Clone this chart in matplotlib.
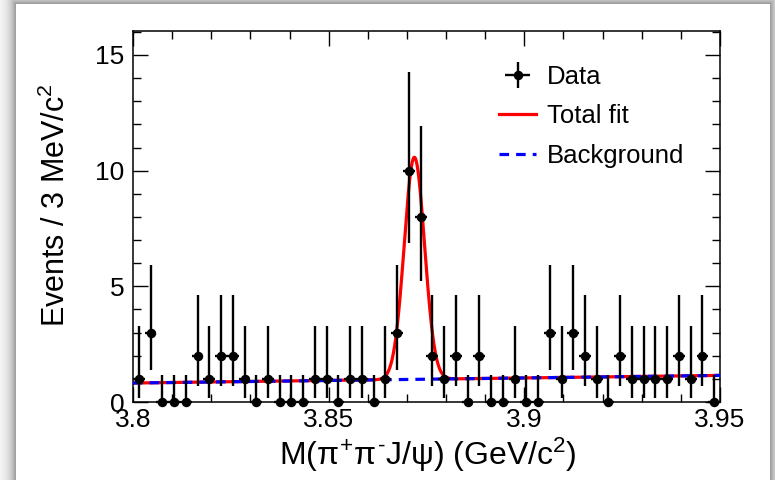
import numpy as np
import matplotlib
matplotlib.use("Agg")
import matplotlib.pyplot as plt
import matplotlib.transforms as mtransforms
from matplotlib.ticker import MultipleLocator

plt.rcParams['font.family'] = ['Liberation Sans', 'DejaVu Sans']
plt.rcParams['mathtext.fontset'] = 'custom'
plt.rcParams['mathtext.rm'] = 'Liberation Sans'
plt.rcParams['mathtext.it'] = 'Liberation Sans'

# data: 3 MeV bins from 3.80 to 3.95 GeV
bin_lo = 3.80
bin_w = 0.003
counts = [1, 3, 0, 0, 0, 2, 1, 2, 2, 1,
          0, 1, 0, 0, 0, 1, 1, 0, 1, 1,
          0, 1, 3, 10, 8, 2, 1, 2, 0, 2,
          0, 0, 1, 0, 0, 3, 1, 3, 2, 1,
          0, 2, 1, 1, 1, 1, 2, 1, 2, 0]

# poisson error bars (lower, upper) per count
err_table = {0: (0.0, 1.15), 1: (0.827, 2.30), 2: (1.292, 2.638),
             3: (1.633, 2.918), 8: (2.768, 3.945), 10: (3.108, 4.266)}

# fit parameters
bkg_left = 0.82      # background at 3.80
bkg_right = 1.15     # background at 3.95
sig_amp = 9.6
sig_mean = 3.8719
sig_sigma = 0.0026

counts = np.array(counts)
centers = bin_lo + bin_w * (np.arange(len(counts)) + 0.5)
ylo = [err_table[c][0] for c in counts]
yhi = [err_table[c][1] for c in counts]

xf = np.linspace(3.80, 3.95, 1500)
bkg = bkg_left + (bkg_right - bkg_left) * (xf - 3.80) / 0.15
total = bkg + sig_amp * np.exp(-0.5 * ((xf - sig_mean) / sig_sigma) ** 2)

W, H = 775, 480
fig = plt.figure(figsize=(W / 100, H / 100), dpi=100)

# shadowed panel background
bg = fig.add_axes([0, 0, 1, 1], zorder=-10)
px = np.arange(W)[None, :] * np.ones((H, 1))
py = np.arange(H)[:, None] * np.ones((1, W))
d = np.maximum.reduce([16 - px, 4 - py, px - 769, np.zeros_like(px)])
shade = np.where(d > 0, 1 - 0.38 * np.exp(-(d - 1) / 7.0), 1.0)
bg.imshow(np.dstack([shade] * 3), aspect='auto', extent=[0, 1, 0, 1])
bg.axis('off')

ax = fig.add_axes([133 / W, 1 - 402 / H, 587 / W, 371.3 / H])

ax.plot(xf, total, color='#ff0000', lw=2.3, label='Total fit', zorder=2)
ax.plot(xf, bkg, color='#0000ff', lw=2.3, ls=(0, (3.0, 2.2)), label='Background', zorder=3)
eb = ax.errorbar(centers, counts, yerr=[ylo, yhi], xerr=bin_w / 2, fmt='o', color='black',
                 ms=5.8, elinewidth=1.7, capsize=0, label='Data', zorder=4, clip_on=False)

ax.set_xlim(3.80, 3.95)
ax.set_ylim(0, 16.05)
ax.xaxis.set_major_locator(MultipleLocator(0.05))
ax.xaxis.set_minor_locator(MultipleLocator(0.01))
ax.yaxis.set_major_locator(MultipleLocator(5))
ax.yaxis.set_minor_locator(MultipleLocator(1))
ax.set_xticks([3.80, 3.85, 3.90, 3.95])
ax.set_xticklabels(['3.8', '3.85', '3.9', '3.95'])
ax.tick_params(which='both', direction='in', top=True, right=True, width=1.0, labelsize=19)
ax.tick_params(which='major', length=11)
ax.tick_params(which='minor', length=6)
ax.tick_params(axis='x', pad=4.5)
ax.tick_params(axis='y', pad=6)
for s in ax.spines.values():
    s.set_linewidth(1.1)

# lift the "0" label a little so it does not sit on "3.8"
ylabels = ax.get_yticklabels()
ylabels[0].set_transform(ylabels[0].get_transform() +
                         mtransforms.ScaledTranslation(0, 3 / 100, fig.dpi_scale_trans))

ax.set_xlabel(r'M($\pi^{+}\pi^{\text{-}}$J/$\psi$) (GeV/c$^{2}$)', fontsize=23)
ax.xaxis.set_label_coords(0.502, -0.143)
ax.xaxis.label.set_va('center')
ax.set_ylabel(r'Events / 3 MeV/c$^{2}$', fontsize=22)
ax.yaxis.set_label_coords(-0.13, 0.53)
ax.yaxis.label.set_va('center')

h, l = ax.get_legend_handles_labels()
order = [l.index('Data'), l.index('Total fit'), l.index('Background')]
ax.legend([h[i] for i in order], [l[i] for i in order], loc='upper left',
          bbox_to_anchor=(499 / W, 1 - 65 / H), bbox_transform=fig.transFigure,
          frameon=False, fontsize=18.5, handlelength=1.45, handletextpad=0.4,
          labelspacing=0.6, borderpad=0, borderaxespad=0)

fig.savefig('out.png', dpi=100)
